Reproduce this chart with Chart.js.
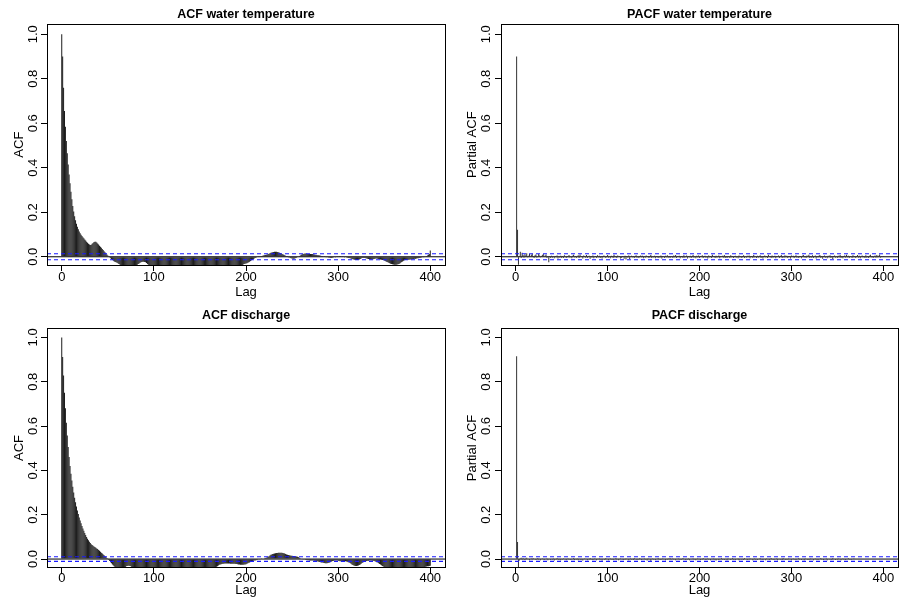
<!DOCTYPE html>
<html>
<head>
<meta charset="utf-8">
<title>ACF / PACF</title>
<script src="https://cdn.jsdelivr.net/npm/chart.js@4.4.1/dist/chart.umd.min.js"></script>
<style>
html,body{margin:0;padding:0;background:#fff;}
#wrap{position:relative;width:901px;height:605px;overflow:hidden;background:#fff;}
#wrap canvas{position:absolute;}
</style>
</head>
<body>
<div id="wrap">
  <canvas id="c0"></canvas>
  <canvas id="c1"></canvas>
  <canvas id="c2"></canvas>
  <canvas id="c3"></canvas>
</div>
<script>
// ---- data ----
const panelTitles = ['ACF water temperature', 'PACF water temperature', 'ACF discharge', 'PACF discharge'];
const yLabels = ['ACF', 'Partial ACF', 'ACF', 'Partial ACF'];
const xLabel = 'Lag';
const xTicks = [0, 100, 200, 300, 400];
const yTicks = [0, 0.2, 0.4, 0.6, 0.8, 1.0];
const X_MIN = -16, X_MAX = 416;

// 95% bounds (blue dashed)
const ciTemp = 0.0135;
const ciQ = 0.0105;

// ACF water temperature, lag 0..400
const acfTemp = [
  1.000, 0.900, 0.760, 0.655, 0.585, 0.520, 0.465, 0.415, 0.370, 0.330,
  0.292, 0.258, 0.228, 0.203, 0.182, 0.164, 0.148, 0.135, 0.124, 0.114,
  0.106, 0.099, 0.093, 0.088, 0.083, 0.078, 0.073, 0.068, 0.063, 0.058,
  0.055, 0.053, 0.054, 0.058, 0.062, 0.066, 0.068, 0.067, 0.064, 0.060,
  0.055, 0.050, 0.045, 0.040, 0.035, 0.030, 0.025, 0.020, 0.015, 0.010,
  0.006, 0.002, -0.003, -0.007, -0.011, -0.015, -0.018, -0.021, -0.023, -0.025,
  -0.027, -0.029, -0.032, -0.035, -0.038, -0.041, -0.043, -0.045, -0.046, -0.047,
  -0.048, -0.048, -0.048, -0.047, -0.046, -0.045, -0.044, -0.043, -0.042, -0.041,
  -0.040, -0.038, -0.036, -0.033, -0.030, -0.027, -0.025, -0.023, -0.022, -0.022,
  -0.023, -0.025, -0.028, -0.032, -0.036, -0.040, -0.043, -0.046, -0.049, -0.051,
  -0.053, -0.055, -0.056, -0.057, -0.058, -0.058, -0.058, -0.057, -0.056, -0.055,
  -0.054, -0.053, -0.052, -0.051, -0.050, -0.050, -0.050, -0.051, -0.052, -0.053,
  -0.054, -0.055, -0.056, -0.057, -0.058, -0.059, -0.060, -0.060, -0.060, -0.059,
  -0.058, -0.057, -0.056, -0.055, -0.054, -0.053, -0.052, -0.051, -0.050, -0.049,
  -0.048, -0.048, -0.048, -0.049, -0.050, -0.051, -0.052, -0.053, -0.054, -0.055,
  -0.056, -0.056, -0.056, -0.055, -0.054, -0.053, -0.052, -0.051, -0.050, -0.049,
  -0.048, -0.047, -0.047, -0.047, -0.048, -0.049, -0.050, -0.051, -0.052, -0.053,
  -0.053, -0.053, -0.052, -0.051, -0.050, -0.049, -0.048, -0.047, -0.046, -0.045,
  -0.045, -0.045, -0.046, -0.047, -0.048, -0.048, -0.048, -0.047, -0.046, -0.045,
  -0.044, -0.043, -0.042, -0.041, -0.040, -0.039, -0.038, -0.035, -0.033, -0.031,
  -0.030, -0.029, -0.027, -0.025, -0.022, -0.019, -0.016, -0.013, -0.010, -0.008,
  -0.006, -0.004, -0.002, 0.000, 0.001, 0.002, 0.003, 0.004, 0.005, 0.006,
  0.007, 0.008, 0.009, 0.010, 0.012, 0.014, 0.016, 0.018, 0.019, 0.020,
  0.021, 0.022, 0.022, 0.022, 0.021, 0.020, 0.019, 0.017, 0.015, 0.013,
  0.011, 0.009, 0.007, 0.005, 0.003, 0.001, -0.001, -0.003, -0.005, -0.007,
  -0.008, -0.009, -0.009, -0.008, -0.006, -0.004, -0.002, 0.000, 0.003, 0.006,
  0.009, 0.011, 0.013, 0.014, 0.015, 0.015, 0.014, 0.013, 0.012, 0.012,
  0.013, 0.013, 0.012, 0.011, 0.010, 0.009, 0.008, 0.008, 0.007, 0.007,
  0.006, 0.005, 0.004, 0.003, 0.002, 0.001, 0.000, -0.001, -0.002, -0.003,
  -0.004, -0.004, -0.005, -0.005, -0.004, -0.003, -0.002, -0.001, 0.000, 0.001,
  0.002, 0.003, 0.003, 0.003, 0.002, 0.001, 0.000, -0.001, -0.002, -0.003,
  -0.004, -0.005, -0.006, -0.007, -0.008, -0.010, -0.011, -0.012, -0.013, -0.014,
  -0.014, -0.014, -0.013, -0.012, -0.010, -0.008, -0.006, -0.005, -0.005, -0.006,
  -0.007, -0.008, -0.009, -0.010, -0.011, -0.012, -0.012, -0.012, -0.011, -0.010,
  -0.009, -0.008, -0.008, -0.009, -0.010, -0.011, -0.012, -0.013, -0.014, -0.015,
  -0.017, -0.019, -0.021, -0.023, -0.025, -0.027, -0.029, -0.031, -0.033, -0.034,
  -0.035, -0.036, -0.036, -0.036, -0.035, -0.034, -0.032, -0.030, -0.027, -0.024,
  -0.021, -0.018, -0.016, -0.015, -0.014, -0.014, -0.013, -0.013, -0.012, -0.012,
  -0.011, -0.010, -0.010, -0.009, -0.009, -0.008, -0.007, -0.007, -0.006, -0.005,
  -0.004, -0.003, -0.002, -0.001, 0.000, 0.002, 0.004, 0.006, 0.009, 0.013,
  0.028
];

// PACF water temperature, lag 1..400
const pacfTemp = [
  0.900, 0.122, -0.036, 0.004, 0.022, -0.006, 0.018, 0.008, -0.004, 0.011,
  0.006, 0.016, -0.003, 0.005, 0.012, -0.002, 0.009, 0.014, 0.003, -0.005,
  0.007, 0.010, -0.004, 0.002, 0.012, 0.006, -0.003, 0.004, 0.008, 0.013,
  -0.002, 0.006, 0.010, -0.005, 0.004, -0.025, 0.003, -0.006, 0.005, -0.004,
  0.002, -0.007, 0.004, -0.003, 0.006, -0.008, 0.002, -0.004, 0.005, -0.006,
  0.003, -0.005, 0.007, -0.002, -0.006, 0.004, -0.003, 0.008, -0.004, 0.002,
  -0.007, 0.005, 0.009, -0.003, 0.004, -0.006, 0.002, 0.007, -0.005, 0.010,
  -0.002, 0.004, -0.008, 0.006, 0.003, -0.004, 0.008, -0.006, 0.002, 0.005,
  -0.009, 0.003, -0.004, 0.006, -0.007, 0.002, 0.004, -0.005, 0.007, -0.003,
  0.005, -0.006, 0.003, -0.008, 0.004, 0.006, -0.002, -0.005, 0.003, 0.008,
  -0.004, 0.002, -0.007, 0.005, 0.003, -0.006, 0.009, -0.003, 0.004, -0.005,
  0.006, -0.002, 0.003, -0.008, -0.006, 0.004, 0.002, -0.009, 0.005, -0.012,
  0.003, -0.004, 0.006, -0.010, 0.002, 0.005, -0.003, 0.004, -0.006, 0.003,
  0.007, -0.004, 0.002, -0.005, 0.004, 0.006, -0.003, 0.005, -0.007, 0.002,
  -0.004, 0.006, -0.002, 0.003, -0.006, 0.004, 0.008, -0.005, 0.002, -0.003,
  0.005, -0.007, 0.003, 0.004, -0.005, 0.002, -0.004, 0.006, -0.008, 0.003,
  0.002, -0.006, 0.005, -0.003, 0.007, -0.004, 0.003, -0.006, 0.004, 0.002,
  -0.005, 0.006, -0.003, 0.008, -0.006, 0.003, -0.002, 0.005, -0.007, 0.004,
  0.003, -0.005, 0.007, -0.004, 0.002, 0.006, -0.008, 0.004, -0.003, 0.005,
  -0.006, 0.003, 0.008, -0.004, 0.002, -0.007, 0.005, -0.003, 0.006, -0.005,
  0.004, -0.002, 0.007, -0.006, 0.003, 0.005, -0.004, 0.002, -0.008, 0.006,
  -0.003, 0.004, -0.005, 0.009, -0.002, 0.003, -0.006, 0.005, -0.004, 0.002,
  0.006, -0.007, 0.003, -0.002, 0.005, -0.004, 0.008, -0.005, 0.003, -0.006,
  0.004, 0.002, -0.005, 0.007, -0.003, 0.004, -0.006, 0.003, 0.005, -0.004,
  0.002, -0.007, 0.006, -0.003, 0.004, -0.005, 0.003, 0.007, -0.006, 0.002,
  -0.004, 0.005, -0.002, 0.006, -0.007, 0.003, 0.004, -0.005, 0.008, -0.003,
  0.002, -0.006, 0.005, -0.004, 0.003, 0.007, -0.005, 0.002, -0.008, 0.004,
  0.006, -0.003, 0.004, -0.006, 0.009, -0.002, 0.003, -0.005, 0.006, -0.004,
  0.003, 0.005, -0.007, 0.004, -0.002, 0.006, -0.005, 0.003, 0.008, -0.006,
  0.002, -0.004, 0.007, -0.003, 0.005, -0.006, 0.003, 0.004, -0.008, 0.006,
  -0.002, 0.005, -0.005, 0.003, 0.007, -0.004, 0.002, -0.006, 0.004, 0.003,
  -0.007, 0.005, 0.008, -0.003, 0.004, -0.005, 0.006, -0.002, 0.009, -0.006,
  0.003, -0.004, 0.007, -0.005, 0.002, 0.006, -0.008, 0.004, -0.003, 0.005,
  0.008, -0.006, 0.003, -0.009, 0.004, 0.006, -0.004, 0.002, -0.007, 0.005,
  -0.003, 0.007, -0.005, 0.004, -0.010, 0.003, 0.006, -0.004, 0.002, -0.006,
  0.005, -0.003, 0.008, -0.005, 0.004, -0.007, 0.003, 0.006, -0.004, 0.009,
  -0.003, 0.005, -0.006, 0.004, 0.002, -0.005, 0.007, -0.003, 0.004, -0.006,
  0.003, 0.008, -0.004, 0.005, -0.007, 0.002, 0.006, -0.003, 0.004, -0.005,
  0.007, -0.004, 0.003, -0.006, 0.005, 0.009, -0.003, 0.004, -0.005, 0.002,
  0.006, -0.004, 0.008, -0.003, 0.005, 0.010, -0.004, 0.003, -0.002, 0.004
];

// ACF discharge, lag 0..400
const acfQ = [
  1.000, 0.912, 0.828, 0.750, 0.680, 0.615, 0.557, 0.505, 0.460, 0.420,
  0.385, 0.354, 0.326, 0.300, 0.277, 0.256, 0.237, 0.219, 0.203, 0.188,
  0.174, 0.161, 0.149, 0.138, 0.128, 0.118, 0.109, 0.100, 0.092, 0.085,
  0.078, 0.072, 0.067, 0.063, 0.060, 0.057, 0.054, 0.051, 0.048, 0.045,
  0.041, 0.037, 0.033, 0.029, 0.025, 0.021, 0.017, 0.013, 0.009, 0.005,
  0.001, -0.004, -0.009, -0.014, -0.019, -0.024, -0.029, -0.034, -0.038, -0.042,
  -0.045, -0.047, -0.048, -0.048, -0.047, -0.046, -0.045, -0.043, -0.040, -0.036,
  -0.033, -0.031, -0.030, -0.030, -0.031, -0.033, -0.036, -0.039, -0.042, -0.045,
  -0.047, -0.049, -0.050, -0.051, -0.051, -0.050, -0.049, -0.048, -0.047, -0.046,
  -0.046, -0.046, -0.047, -0.048, -0.049, -0.050, -0.051, -0.052, -0.052, -0.052,
  -0.051, -0.050, -0.049, -0.048, -0.047, -0.046, -0.045, -0.045, -0.045, -0.046,
  -0.047, -0.048, -0.049, -0.050, -0.051, -0.052, -0.052, -0.052, -0.051, -0.050,
  -0.049, -0.048, -0.047, -0.046, -0.046, -0.046, -0.047, -0.048, -0.049, -0.050,
  -0.051, -0.051, -0.051, -0.050, -0.049, -0.048, -0.047, -0.046, -0.046, -0.046,
  -0.047, -0.048, -0.049, -0.050, -0.050, -0.050, -0.049, -0.048, -0.047, -0.046,
  -0.045, -0.045, -0.045, -0.046, -0.047, -0.048, -0.048, -0.048, -0.047, -0.046,
  -0.045, -0.044, -0.043, -0.042, -0.041, -0.040, -0.039, -0.037, -0.035, -0.032,
  -0.029, -0.026, -0.024, -0.023, -0.022, -0.021, -0.021, -0.020, -0.020, -0.020,
  -0.020, -0.020, -0.020, -0.021, -0.021, -0.021, -0.021, -0.021, -0.021, -0.022,
  -0.022, -0.023, -0.024, -0.025, -0.026, -0.026, -0.026, -0.026, -0.025, -0.024,
  -0.023, -0.021, -0.019, -0.017, -0.015, -0.013, -0.011, -0.009, -0.008, -0.007,
  -0.006, -0.005, -0.004, -0.003, -0.002, -0.001, 0.000, 0.001, 0.002, 0.003,
  0.004, 0.005, 0.006, 0.008, 0.010, 0.013, 0.016, 0.019, 0.021, 0.023,
  0.024, 0.025, 0.026, 0.027, 0.027, 0.028, 0.028, 0.028, 0.028, 0.028,
  0.027, 0.026, 0.025, 0.023, 0.021, 0.019, 0.018, 0.017, 0.016, 0.015,
  0.015, 0.014, 0.014, 0.013, 0.012, 0.011, 0.010, 0.008, 0.006, 0.004,
  0.002, 0.000, -0.001, -0.002, -0.003, -0.004, -0.004, -0.005, -0.005, -0.006,
  -0.006, -0.006, -0.007, -0.007, -0.008, -0.008, -0.009, -0.010, -0.011, -0.012,
  -0.013, -0.014, -0.015, -0.016, -0.017, -0.018, -0.019, -0.019, -0.019, -0.018,
  -0.017, -0.015, -0.013, -0.011, -0.009, -0.008, -0.007, -0.006, -0.006, -0.007,
  -0.008, -0.009, -0.010, -0.010, -0.010, -0.009, -0.009, -0.009, -0.010, -0.011,
  -0.012, -0.014, -0.016, -0.018, -0.021, -0.024, -0.027, -0.029, -0.030, -0.031,
  -0.031, -0.030, -0.029, -0.027, -0.024, -0.021, -0.018, -0.015, -0.013, -0.011,
  -0.010, -0.009, -0.008, -0.008, -0.007, -0.007, -0.007, -0.008, -0.008, -0.009,
  -0.010, -0.012, -0.014, -0.016, -0.019, -0.022, -0.025, -0.028, -0.031, -0.034,
  -0.037, -0.040, -0.043, -0.045, -0.047, -0.048, -0.049, -0.050, -0.050, -0.050,
  -0.050, -0.049, -0.048, -0.047, -0.046, -0.046, -0.046, -0.047, -0.048, -0.049,
  -0.050, -0.050, -0.050, -0.049, -0.048, -0.047, -0.046, -0.046, -0.046, -0.047,
  -0.048, -0.049, -0.049, -0.049, -0.048, -0.047, -0.046, -0.045, -0.044, -0.043,
  -0.042, -0.041, -0.040, -0.038, -0.036, -0.035, -0.034, -0.033, -0.032, -0.031,
  -0.030
];

// PACF discharge, lag 1..400
const pacfQ = [
  0.915, 0.077, -0.036, -0.006, 0.004, 0.006, -0.003, 0.005, 0.002, -0.004,
  0.004, 0.006, -0.002, 0.003, -0.005, 0.002, 0.004, -0.003, 0.005, -0.002,
  0.003, -0.004, 0.002, 0.005, -0.003, 0.002, -0.005, 0.003, 0.004, -0.002,
  -0.004, 0.003, -0.002, 0.004, -0.005, 0.002, 0.003, -0.004, 0.002, -0.003,
  0.004, -0.006, 0.002, -0.003, 0.005, -0.002, -0.004, 0.003, -0.005, 0.002,
  -0.003, 0.004, -0.002, 0.003, -0.005, 0.002, 0.004, -0.003, 0.002, -0.004,
  0.003, -0.002, 0.005, -0.004, 0.002, -0.003, 0.004, -0.005, 0.002, 0.003,
  -0.004, 0.002, -0.006, 0.003, 0.004, -0.002, 0.003, -0.005, 0.002, -0.003,
  0.005, -0.003, 0.002, -0.004, 0.003, 0.004, -0.002, -0.005, 0.003, -0.002,
  0.004, -0.003, 0.002, -0.006, 0.003, 0.002, -0.004, 0.005, -0.002, 0.003,
  -0.005, 0.002, 0.004, -0.003, 0.002, -0.004, 0.003, -0.002, 0.005, -0.003,
  0.002, -0.005, 0.003, 0.004, -0.002, 0.003, -0.004, 0.002, -0.003, 0.004,
  -0.002, 0.003, -0.005, 0.002, 0.004, -0.003, 0.002, -0.004, 0.005, -0.002,
  0.003, -0.004, 0.002, -0.003, 0.005, 0.002, -0.004, 0.003, -0.002, 0.004,
  -0.003, 0.002, -0.006, 0.004, -0.002, 0.003, -0.008, 0.002, 0.004, -0.003,
  0.002, -0.004, 0.003, -0.002, 0.005, -0.003, 0.002, -0.004, 0.003, 0.004,
  -0.002, 0.003, -0.005, 0.002, -0.003, 0.004, -0.002, 0.005, -0.003, 0.002,
  0.004, -0.003, 0.002, -0.005, 0.003, -0.002, 0.004, -0.003, 0.002, -0.004,
  0.003, 0.005, -0.002, 0.003, -0.004, 0.002, -0.003, 0.004, -0.005, 0.002,
  0.003, -0.002, 0.004, -0.003, 0.002, -0.005, 0.003, 0.004, -0.002, 0.003,
  -0.004, 0.002, -0.003, 0.005, -0.002, 0.003, -0.004, 0.002, 0.004, -0.003,
  0.002, -0.005, 0.003, -0.002, 0.004, -0.003, 0.002, -0.006, 0.003, 0.002,
  -0.004, 0.003, -0.002, 0.005, -0.003, 0.002, -0.004, 0.003, 0.002, -0.005,
  0.004, -0.002, 0.003, -0.004, 0.002, 0.005, -0.003, 0.002, -0.004, 0.003,
  -0.002, 0.004, -0.005, 0.002, 0.003, -0.003, 0.002, -0.004, 0.005, -0.002,
  0.003, -0.004, 0.002, -0.003, 0.004, -0.002, 0.003, -0.005, 0.002, 0.004,
  -0.003, 0.002, -0.004, 0.003, -0.002, 0.005, -0.003, 0.002, -0.004, 0.003,
  0.002, -0.005, 0.004, -0.002, 0.003, -0.004, 0.002, 0.005, -0.003, 0.002,
  -0.004, 0.003, -0.002, 0.004, -0.005, 0.002, 0.003, -0.003, 0.002, -0.004,
  0.005, -0.002, 0.003, -0.004, 0.002, -0.003, 0.004, -0.002, 0.003, -0.005,
  0.002, 0.004, -0.003, 0.002, -0.004, 0.003, -0.002, 0.005, -0.003, 0.002,
  -0.004, 0.003, 0.002, -0.005, 0.004, -0.002, 0.003, -0.004, 0.002, -0.003,
  0.004, -0.002, 0.003, -0.005, 0.002, 0.004, -0.003, 0.002, -0.004, 0.003,
  -0.002, 0.005, -0.003, 0.002, -0.004, 0.003, -0.002, 0.004, -0.005, 0.002,
  0.003, -0.003, 0.002, -0.004, 0.005, -0.002, 0.003, -0.004, 0.002, -0.003,
  0.004, -0.002, 0.003, -0.005, 0.002, 0.004, -0.003, 0.002, -0.004, 0.003,
  -0.002, 0.005, -0.003, 0.002, -0.004, 0.003, -0.002, 0.004, 0.003, -0.002
];

const FONT_FAMILY = "'Liberation Sans', Arial, Helvetica, sans-serif";
const panels = [
  {values: acfTemp,  firstLag: 0, ci: ciTemp, barColor: '#1c1c1c', pos: {x: 0,   y: 0,   w: 450, h: 302},
   area: {l: 47, r: 445, t: 24.3, b: 265}, yMin: -0.037, yMax: 1.045,
   titleY: 17.5, yTitlePad: 11.4, yTickPad: -1.3, xTickPad: -1, xTitlePad: 2.2},
  {values: pacfTemp, firstLag: 1, ci: ciTemp, barColor: '#333', pos: {x: 450, y: 0,   w: 451, h: 302},
   area: {l: 51, r: 448, t: 24.3, b: 265}, yMin: -0.037, yMax: 1.045,
   titleY: 17.5, yTitlePad: 14.7, yTickPad: -0.7, xTickPad: -1, xTitlePad: 2.2},
  {values: acfQ,     firstLag: 0, ci: ciQ,    barColor: '#1c1c1c', pos: {x: 0,   y: 302, w: 450, h: 303},
   area: {l: 47, r: 445, t: 26.3, b: 265.7}, yMin: -0.039, yMax: 1.041,
   titleY: 17.3, yTitlePad: 11.4, yTickPad: -1.3, xTickPad: -2.8, xTitlePad: 6.7},
  {values: pacfQ,    firstLag: 1, ci: ciQ,    barColor: '#333', pos: {x: 450, y: 302, w: 451, h: 303},
   area: {l: 51, r: 448, t: 26.3, b: 265.7}, yMin: -0.039, yMax: 1.041,
   titleY: 17.3, yTitlePad: 14.7, yTickPad: -0.7, xTickPad: -2.8, xTitlePad: 6.7}
];

// Title centred over the plot region, like R's main=
const panelTitle = {
  id: 'panelTitle',
  afterDraw(chart, args, opts){
    const {ctx, chartArea} = chart;
    ctx.save();
    ctx.font = 'bold 12.5px ' + FONT_FAMILY;
    ctx.fillStyle = '#000';
    ctx.textAlign = 'center';
    ctx.textBaseline = 'alphabetic';
    ctx.fillText(opts.text, (chartArea.left + chartArea.right) / 2, opts.y);
    ctx.restore();
  }
};

// Box round the plot region (bty = "o")
const frameBox = {
  id: 'frameBox',
  afterDraw(chart){
    const {ctx, chartArea:{left, right, top, bottom}} = chart;
    const a = v => Math.round(v - 0.5) + 0.5;
    ctx.save();
    ctx.strokeStyle = '#000';
    ctx.lineWidth = 1;
    ctx.strokeRect(a(left), a(top), a(right) - a(left), a(bottom) - a(top));
    ctx.restore();
  }
};

const toPoints = (values, firstLag) => values.map((v, i) => ({x: firstLag + i, y: v}));
const hLine = y => [{x: X_MIN, y}, {x: X_MAX, y}];

panels.forEach((p, k) => {
  const canvas = document.getElementById('c' + k);
  canvas.width = p.pos.w; canvas.height = p.pos.h;
  canvas.style.left = p.pos.x + 'px'; canvas.style.top = p.pos.y + 'px';
  const font = {family: FONT_FAMILY, size: 13};

  new Chart(canvas, {
    type: 'bar',
    data: {
      datasets: [
        {type: 'line', data: hLine(p.ci), borderColor: '#1a1aff', borderDash: [4, 3], borderWidth: 1.2, pointRadius: 0, order: 0},
        {type: 'line', data: hLine(-p.ci), borderColor: '#1a1aff', borderDash: [4, 3], borderWidth: 1.2, pointRadius: 0, order: 0},
        {type: 'line', data: hLine(0), borderColor: '#000', borderWidth: 1, pointRadius: 0, order: 0},
        {data: toPoints(p.values, p.firstLag), backgroundColor: p.barColor, borderWidth: 0, barThickness: 1, inflateAmount: 0, order: 1}
      ]
    },
    options: {
      responsive: false,
      animation: false,
      events: [],
      layout: {padding: {left: 0, top: p.area.t, right: p.pos.w - p.area.r, bottom: 0}},
      plugins: {
        legend: {display: false},
        tooltip: {enabled: false},
        panelTitle: {text: panelTitles[k], y: p.titleY}
      },
      scales: {
        x: {
          type: 'linear', min: X_MIN, max: X_MAX, offset: false,
          afterBuildTicks: s => { s.ticks = xTicks.map(v => ({value: v})); },
          afterFit: s => { s.height = p.pos.h - p.area.b; },
          grid: {offset: false, drawOnChartArea: false, color: '#000', tickLength: 6, lineWidth: 1},
          border: {display: true, color: '#000', width: 1},
          ticks: {font, color: '#000', padding: p.xTickPad, minRotation: 0, maxRotation: 0, autoSkip: false, callback: v => String(v)},
          title: {display: true, text: xLabel, font, color: '#000', padding: {top: 0, bottom: p.xTitlePad}}
        },
        y: {
          min: p.yMin, max: p.yMax,
          afterBuildTicks: s => { s.ticks = yTicks.map(v => ({value: v})); },
          afterFit: s => { s.width = p.area.l; },
          grid: {drawOnChartArea: false, color: '#000', tickLength: 6, lineWidth: 1},
          border: {display: true, color: '#000', width: 1},
          ticks: {font, color: '#000', padding: p.yTickPad, minRotation: 90, maxRotation: 90, crossAlign: 'center', callback: v => v.toFixed(1)},
          title: {display: true, text: yLabels[k], font, color: '#000', padding: {top: p.yTitlePad, bottom: 0}}
        }
      }
    },
    plugins: [panelTitle, frameBox]
  });
});
</script>
</body>
</html>
